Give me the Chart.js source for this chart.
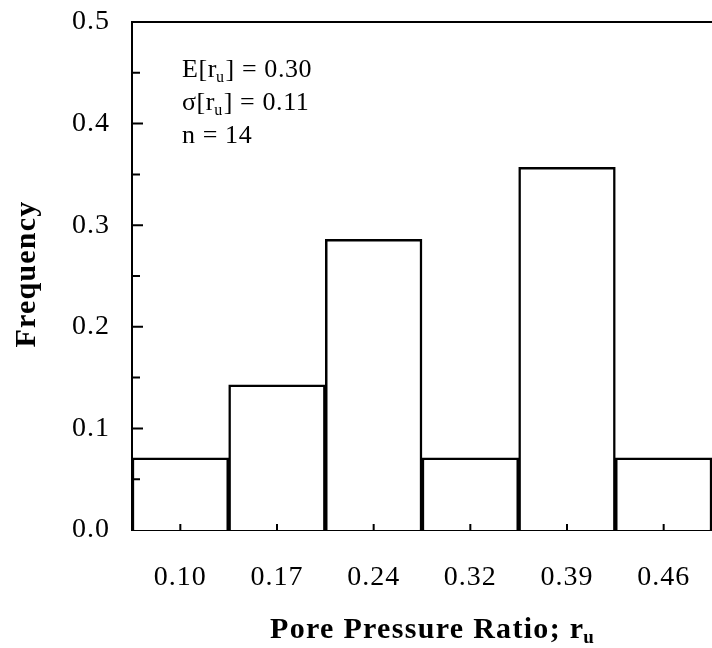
<!DOCTYPE html>
<html>
<head>
<meta charset="utf-8">
<script src="https://cdn.jsdelivr.net/npm/chart.js@4"></script>
<style>
html, body { margin: 0; padding: 0; background: #fff; overflow: hidden; }
</style>
</head>
<body>
<canvas id="histo" width="712" height="648"></canvas>
<script>
// histogram of r_u, 14 cases
const bins = ['0.10', '0.17', '0.24', '0.32', '0.39', '0.46'];
const freq = [0.071, 0.143, 0.286, 0.071, 0.357, 0.071];
const yMin = 0, yMax = 0.5, yStep = 0.1;
const statLines = [
  ['E[r', 'u', '] = 0.30'],
  ['\u03c3[r', 'u', '] = 0.11'],
  ['n = 14', '', '']
];

const serif = "'Liberation Serif', 'Times New Roman', serif";

// text with a subscript part
function subText(ctx, x, y, parts, size, bold) {
  const w = bold ? 'bold ' : '';
  ctx.font = w + size + 'px ' + serif;
  ctx.fillText(parts[0], x, y);
  x += ctx.measureText(parts[0]).width;
  if (parts[1]) {
    ctx.font = w + Math.round(size * 0.62) + 'px ' + serif;
    ctx.fillText(parts[1], x - 1, y + 5);
    x += ctx.measureText(parts[1]).width;
  }
  if (parts[2]) {
    ctx.font = w + size + 'px ' + serif;
    ctx.fillText(parts[2], x, y);
  }
}

// drop the label overhang padding so the plot box sits where it should
function noPad(s) {
  s.paddingTop = 0; s.paddingBottom = 0;
  s.paddingLeft = 0; s.paddingRight = 0;
}

const frame = {
  id: 'frame',
  beforeDraw(chart) {
    chart.ctx.letterSpacing = '1px';
  },
  afterDraw(chart) {
    const ctx = chart.ctx;
    const a = chart.chartArea;
    const x = chart.scales.x, y = chart.scales.y;
    ctx.save();
    ctx.strokeStyle = '#000';
    ctx.lineWidth = 2;
    ctx.beginPath();
    // top frame line
    ctx.moveTo(a.left - 1, a.top);
    ctx.lineTo(a.right, a.top);
    // inward y ticks, minor every 0.05
    for (let i = 1; i < 10; i++) {
      const py = y.getPixelForValue(i * 0.05);
      const len = i % 2 === 0 ? 11 : 8;
      ctx.moveTo(a.left, py);
      ctx.lineTo(a.left + len, py);
    }
    // small upward x ticks at bin centres
    bins.forEach((b, i) => {
      const px = x.getPixelForValue(i);
      ctx.moveTo(px, a.bottom);
      ctx.lineTo(px, a.bottom - 6);
    });
    ctx.stroke();

    ctx.fillStyle = '#000';
    ctx.textBaseline = 'alphabetic';
    ctx.textAlign = 'left';
    ctx.letterSpacing = '0.6px';
    statLines.forEach((ln, i) => subText(ctx, 182, 77 + i * 33, ln, 26, false));

    // x axis title
    ctx.letterSpacing = '1.3px';
    subText(ctx, 270, 638, ['Pore Pressure Ratio; r', 'u', ''], 30, true);

    // y axis title
    ctx.save();
    ctx.translate(35, 274);
    ctx.rotate(-Math.PI / 2);
    ctx.textAlign = 'center';
    ctx.letterSpacing = '1.2px';
    ctx.font = 'bold 30px ' + serif;
    ctx.fillText('Frequency', 0, 0);
    ctx.restore();
    ctx.restore();
  }
};

new Chart(document.getElementById('histo'), {
  type: 'bar',
  data: {
    labels: bins,
    datasets: [{
      data: freq,
      backgroundColor: '#fff',
      borderColor: '#000',
      borderWidth: 2.5,
      barPercentage: 1,
      categoryPercentage: 1
    }]
  },
  options: {
    responsive: false,
    animation: false,
    devicePixelRatio: 1,
    layout: { autoPadding: false, padding: { top: 22, right: 0, left: 0, bottom: 0 } },
    plugins: { legend: { display: false }, tooltip: { enabled: false } },
    scales: {
      x: {
        offset: true,
        grid: { display: false, drawTicks: false },
        border: { display: true, color: '#000', width: 2 },
        ticks: {
          color: '#000',
          font: { family: serif, size: 28 },
          padding: 31,
          maxRotation: 0,
          autoSkip: false
        },
        afterFit(s) { s.height = 118; noPad(s); }
      },
      y: {
        min: yMin,
        max: yMax,
        grid: { display: false, drawTicks: false },
        border: { display: true, color: '#000', width: 2 },
        ticks: {
          stepSize: yStep,
          color: '#000',
          font: { family: serif, size: 28 },
          padding: 22,
          callback: v => v.toFixed(1)
        },
        afterFit(s) { s.width = 132; noPad(s); }
      }
    }
  },
  plugins: [frame]
});
</script>
</body>
</html>
